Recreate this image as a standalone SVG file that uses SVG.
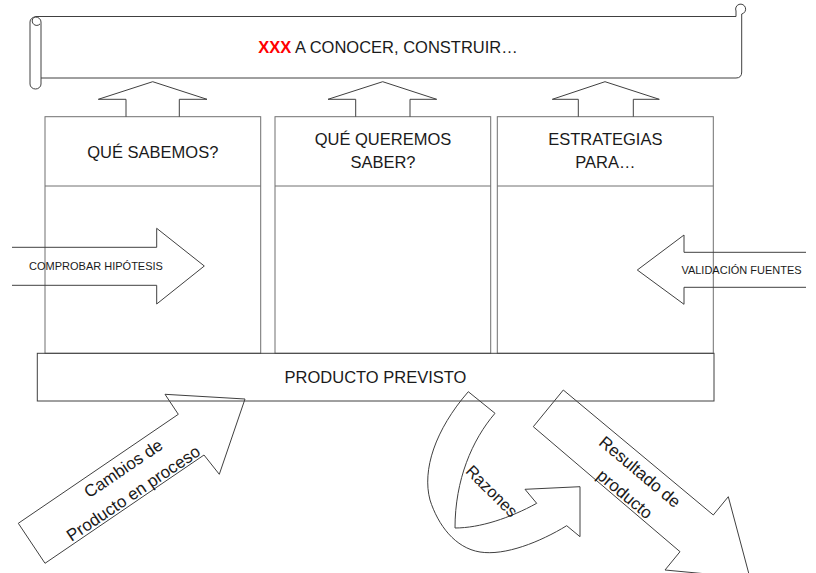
<svg xmlns="http://www.w3.org/2000/svg" width="816" height="573" viewBox="0 0 816 573">
<style>
.ln{fill:none;stroke:#404040;stroke-width:1;stroke-linejoin:miter}
.col{fill:none;stroke:#707070;stroke-width:1}
.t{font-family:"Liberation Sans",Arial,sans-serif;font-size:16.5px;fill:#1a1a1a}
.s{font-size:11px}
.r{font-size:17px}
</style>
<rect width="816" height="573" fill="#ffffff"/>
<g id="banner">
<path class="ln" d="M36,16.5 L736,16.5"/>
<path class="ln" d="M41,78 L736,78 Q741.7,78 741.7,72 L741.7,14"/>
<path class="ln" d="M736,16.5 L736,11 A5,5 0 1 1 741.7,14"/>
<path class="ln" d="M41,22 L41,84 A5.5,5 0 0 1 30,84 L30,22 A5.5,5 0 0 1 41,22"/>
<path class="ln" d="M36,16.5 A4.5,4.5 0 1 0 40,24"/>
<text class="t" x="388" y="53.3" text-anchor="middle"><tspan fill="#ff0000" font-weight="bold">XXX</tspan> A CONOCER, CONSTRUIR…</text>
</g>
<g id="col1">
<rect class="col" x="45" y="116.7" width="215.7" height="236.6"/>
<line class="col" x1="45" y1="186" x2="260.7" y2="186"/>
<text class="t" x="152.8" y="157.7" text-anchor="middle">QUÉ SABEMOS?</text>
</g>
<g id="col2">
<rect class="col" x="275" y="116.7" width="215.7" height="236.6"/>
<line class="col" x1="275" y1="186" x2="490.7" y2="186"/>
<text class="t" x="383" y="145" text-anchor="middle">QUÉ QUEREMOS</text>
<text class="t" x="383" y="168" text-anchor="middle">SABER?</text>
</g>
<g id="col3">
<rect class="col" x="497.3" y="116.7" width="216" height="236.6"/>
<line class="col" x1="497.3" y1="186" x2="713.3" y2="186"/>
<text class="t" x="605.3" y="145" text-anchor="middle">ESTRATEGIAS</text>
<text class="t" x="605.3" y="168" text-anchor="middle">PARA…</text>
</g>
<g id="producto">
<rect class="ln" x="37.3" y="353.3" width="676.7" height="47.7"/>
<text class="t" x="375.5" y="383.3" text-anchor="middle">PRODUCTO PREVISTO</text>
</g>
<g id="connectors">
<path class="ln" d="M126,116.7 L126,99.3 L98.3,99.3 L152.7,81.7 L207,99.3 L179.3,99.3 L179.3,116.7"/>
<path class="ln" d="M355.7,116.7 L355.7,99.3 L328,99.3 L382.7,81.7 L436.7,99.3 L410,99.3 L410,116.7"/>
<path class="ln" d="M578.3,116.7 L578.3,99.3 L552.3,99.3 L605,81.7 L659.3,99.3 L633.3,99.3 L633.3,116.7"/>
</g>
<g id="comprobar">
<path class="ln" d="M12,247.3 L156.7,247.3 L156.7,228.3 L204.3,266 L156.7,304 L156.7,285.3 L12,285.3"/>
<text class="t s" x="96" y="270.3" text-anchor="middle">COMPROBAR HIPÓTESIS</text>
</g>
<g id="validacion">
<path class="ln" d="M806,252.3 L684,252.3 L684,235 L637.3,270 L684,304.3 L684,287.3 L806,287.3"/>
<text class="t s" x="741.5" y="274.3" text-anchor="middle">VALIDACIÓN FUENTES</text>
</g>
<g id="cambios">
<path class="ln" d="M45,563.3 L18.3,523.3 L178.3,414.3 L165,394.3 L245,399 L219.3,474.3 L204,455 Z"/>
<text class="t r" text-anchor="middle" transform="translate(126.6,473.2) rotate(-34)">Cambios de</text>
<text class="t r" text-anchor="middle" transform="translate(136.6,498.2) rotate(-34)">Producto en proceso</text>
</g>
<g id="razones">
<path class="ln" d="M468.3,391.7 L495,413.3 C472,440 455,480 455,528 C480,528 510,518 536.7,503.3 L525,489.3 L580,486.7 L580,536.7 L566.7,525.7 C540,542 505,556 480,552 C455,548 438,525 430,500 C422,470 435,430 468.3,391.7 Z"/>
<text class="t" text-anchor="middle" font-size="16px" transform="translate(487.7,495) rotate(45)">Razones</text>
</g>
<g id="resultado">
<path class="ln" d="M563.3,390 L533.3,426.7 L680,551.7 L665,570 L750,578 L728.3,496.7 L713.3,515 Z"/>
<text class="t r" text-anchor="middle" transform="translate(636.2,476.3) rotate(40)">Resultado de</text>
<text class="t r" text-anchor="middle" transform="translate(621.2,498.6) rotate(40)">producto</text>
</g>
</svg>
